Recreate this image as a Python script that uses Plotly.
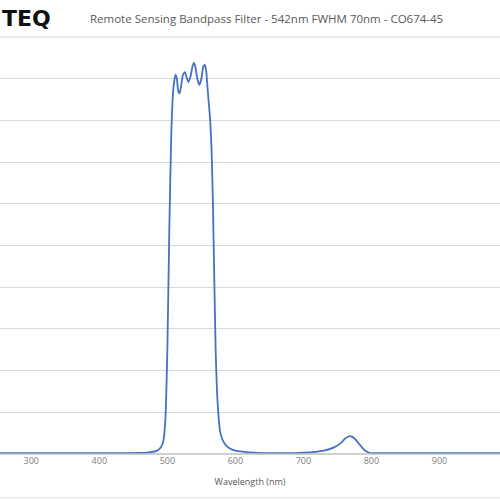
import plotly.graph_objects as go

wavelength = [254, 300, 400, 470, 485, 490, 494, 497, 500, 503, 506, 509, 512, 514, 516, 518, 520, 523, 526, 528, 531, 534, 537, 539, 541, 544, 547, 550, 553, 555, 557, 559, 561, 563, 565, 567, 569, 571, 574, 578, 584, 592, 600, 620, 650, 700, 730, 745, 755, 762, 768, 772, 777, 783, 790, 797, 805, 850, 900, 989]
transmission = [0.2, 0.2, 0.2, 0.3, 0.8, 1.5, 3, 8, 25, 55, 78, 88, 91, 90, 87, 86.5, 88, 91, 91.6, 90.5, 89.2, 90.5, 93, 93.8, 93, 90, 88.5, 90, 93, 93.3, 92, 88, 84, 80, 73, 60, 42, 25, 12, 5, 2.5, 1.3, 0.8, 0.4, 0.2, 0.3, 0.8, 1.6, 2.6, 3.8, 4.3, 4.1, 3.4, 2.2, 0.9, 0.3, 0.2, 0.2, 0.2, 0.2]
x_ticks = [300, 400, 500, 600, 700, 800, 900, 1000]

fig = go.Figure(go.Scatter(x=wavelength, y=transmission, mode="lines",
                           line=dict(color="#4472C4", width=1.8, shape="spline", smoothing=0.5),
                           hoverinfo="skip"))
fig.update_layout(
    width=500, height=500, paper_bgcolor="white", plot_bgcolor="white",
    margin=dict(l=0, r=0, t=37, b=46, autoexpand=False), showlegend=False,
    font=dict(family="Open Sans, Liberation Sans", color="#595959"),
    xaxis=dict(range=[254, 989], tickvals=x_ticks, showgrid=False, zeroline=False, automargin=False,
               tickfont=dict(size=9, color="#7f7f7f"),
               title=dict(text="Wavelength (nm)", font=dict(size=9, color="#595959"), standoff=12)),
    yaxis=dict(range=[0, 100], dtick=10, showgrid=True, gridcolor="#d9d9d9", gridwidth=1, automargin=False,
               zeroline=False, showticklabels=False, showline=False),
)
fig.add_annotation(xref="paper", yref="paper", x=0, y=1, yshift=19, yanchor="middle", xanchor="left",
                   text="<b>TEQ</b>", showarrow=False, font=dict(size=22, color="#111111", family="DejaVu Sans"))
fig.add_annotation(xref="paper", yref="paper", x=0.532, y=1, yshift=19, yanchor="middle",
                   text="Remote Sensing Bandpass Filter - 542nm FWHM 70nm - CO674-45",
                   showarrow=False, font=dict(size=11.5, color="#595959"))
fig.add_shape(type="line", xref="paper", yref="paper", x0=0, x1=1, y0=1, y1=1, line=dict(color="#d9d9d9", width=1))
fig.add_shape(type="line", xref="paper", yref="paper", x0=0, x1=1, y0=0, y1=0, line=dict(color="#bfbfbf", width=1.5))
fig.add_shape(type="line", xref="paper", yref="paper", x0=0, x1=1, y0=-0.105, y1=-0.105, line=dict(color="#e0e0e0", width=1))
fig.write_html("out.html", config={"displayModeBar": False},
               post_script="document.body.style.margin='0';document.body.style.overflow='hidden';")
